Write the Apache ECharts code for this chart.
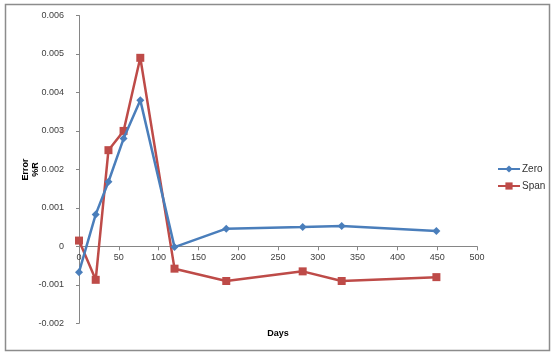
<!DOCTYPE html>
<html><head><meta charset="utf-8">
<script src="https://cdn.jsdelivr.net/npm/echarts@6/dist/echarts.min.js"></script>
<style>html,body{margin:0;padding:0;background:#fff}#c{width:556px;height:357px}</style>
</head><body><div id="c"></div>
<script>
const days = [0, 21, 37, 56, 77, 120, 185, 281, 330, 449];
const zeroVals = [-0.00067, 0.00083, 0.00168, 0.0028, 0.0038, -0.00002, 0.00046, 0.0005, 0.00053, 0.0004];
const spanVals = [0.00015, -0.00087, 0.0025, 0.003, 0.0049, -0.00058, -0.0009, -0.00065, -0.0009, -0.0008];
const seriesNames = ['Zero', 'Span'];
const yMin = -0.002, yMax = 0.006;

const chart = echarts.init(document.getElementById('c'));
const font = 'Liberation Sans';
const gTop = 15.5, gBottom = 33.7, H = 357;
const gH = H - gTop - gBottom;
const zeroOffset = -(gH * (0 - yMin) / (yMax - yMin));
chart.setOption({
  animation: false,
  backgroundColor: '#fff',
  graphic: [{type: 'rect', shape: {x: 5.5, y: 4.5, width: 544, height: 346}, style: {fill: 'none', stroke: '#8c8c8c', lineWidth: 1.5}, z: -1}],
  grid: {left: 79, right: 79, top: gTop, bottom: gBottom, containLabel: false, outerBoundsMode: 'none'},
  legend: {
    orient: 'vertical', left: 497, top: 164, padding: 0, itemWidth: 22, itemHeight: 9, itemGap: 7,
    textStyle: {fontFamily: font, fontSize: 10, color: '#333', padding: [0, 0, 0, -3]},
    data: seriesNames
  },
  xAxis: {
    type: 'value', min: 0, max: 500, interval: 50, position: 'bottom', offset: zeroOffset,
    name: 'Days', nameLocation: 'middle', nameGap: 83, nameMoveOverlap: false,
    nameTextStyle: {fontFamily: font, fontSize: 9, fontWeight: 'bold', color: '#000'},
    axisLine: {onZero: false, lineStyle: {color: '#868686', width: 1}},
    axisTick: {show: true, length: 4, inside: false, lineStyle: {color: '#868686'}},
    axisLabel: {fontFamily: font, fontSize: 9, color: '#404040', margin: 7},
    splitLine: {show: false}
  },
  yAxis: {
    type: 'value', min: yMin, max: yMax, interval: 0.001,
    name: 'Error\n%R', nameLocation: 'middle', nameGap: 38, nameRotate: 90, nameMoveOverlap: false,
    nameTextStyle: {fontFamily: font, fontSize: 9, fontWeight: 'bold', color: '#000', lineHeight: 10},
    axisLine: {show: true, onZero: false, lineStyle: {color: '#868686', width: 1}},
    axisTick: {show: true, length: 3, lineStyle: {color: '#868686'}},
    axisLabel: {fontFamily: font, fontSize: 9, color: '#404040', margin: 15,
      formatter: v => Math.abs(v) < 1e-9 ? '0' : v.toFixed(3)},
    splitLine: {show: false}
  },
  series: [
    {name: seriesNames[0], type: 'line', data: days.map((d, i) => [d, zeroVals[i]]),
     symbol: 'diamond', symbolSize: 8, color: '#4A7EBB',
     lineStyle: {width: 2.5, color: '#4A7EBB'}, itemStyle: {color: '#4A7EBB'}, z: 3},
    {name: seriesNames[1], type: 'line', data: days.map((d, i) => [d, spanVals[i]]),
     symbol: 'rect', symbolSize: 8, color: '#BE4B48',
     lineStyle: {width: 2.5, color: '#BE4B48'}, itemStyle: {color: '#BE4B48'}, z: 2}
  ]
});
</script></body></html>
